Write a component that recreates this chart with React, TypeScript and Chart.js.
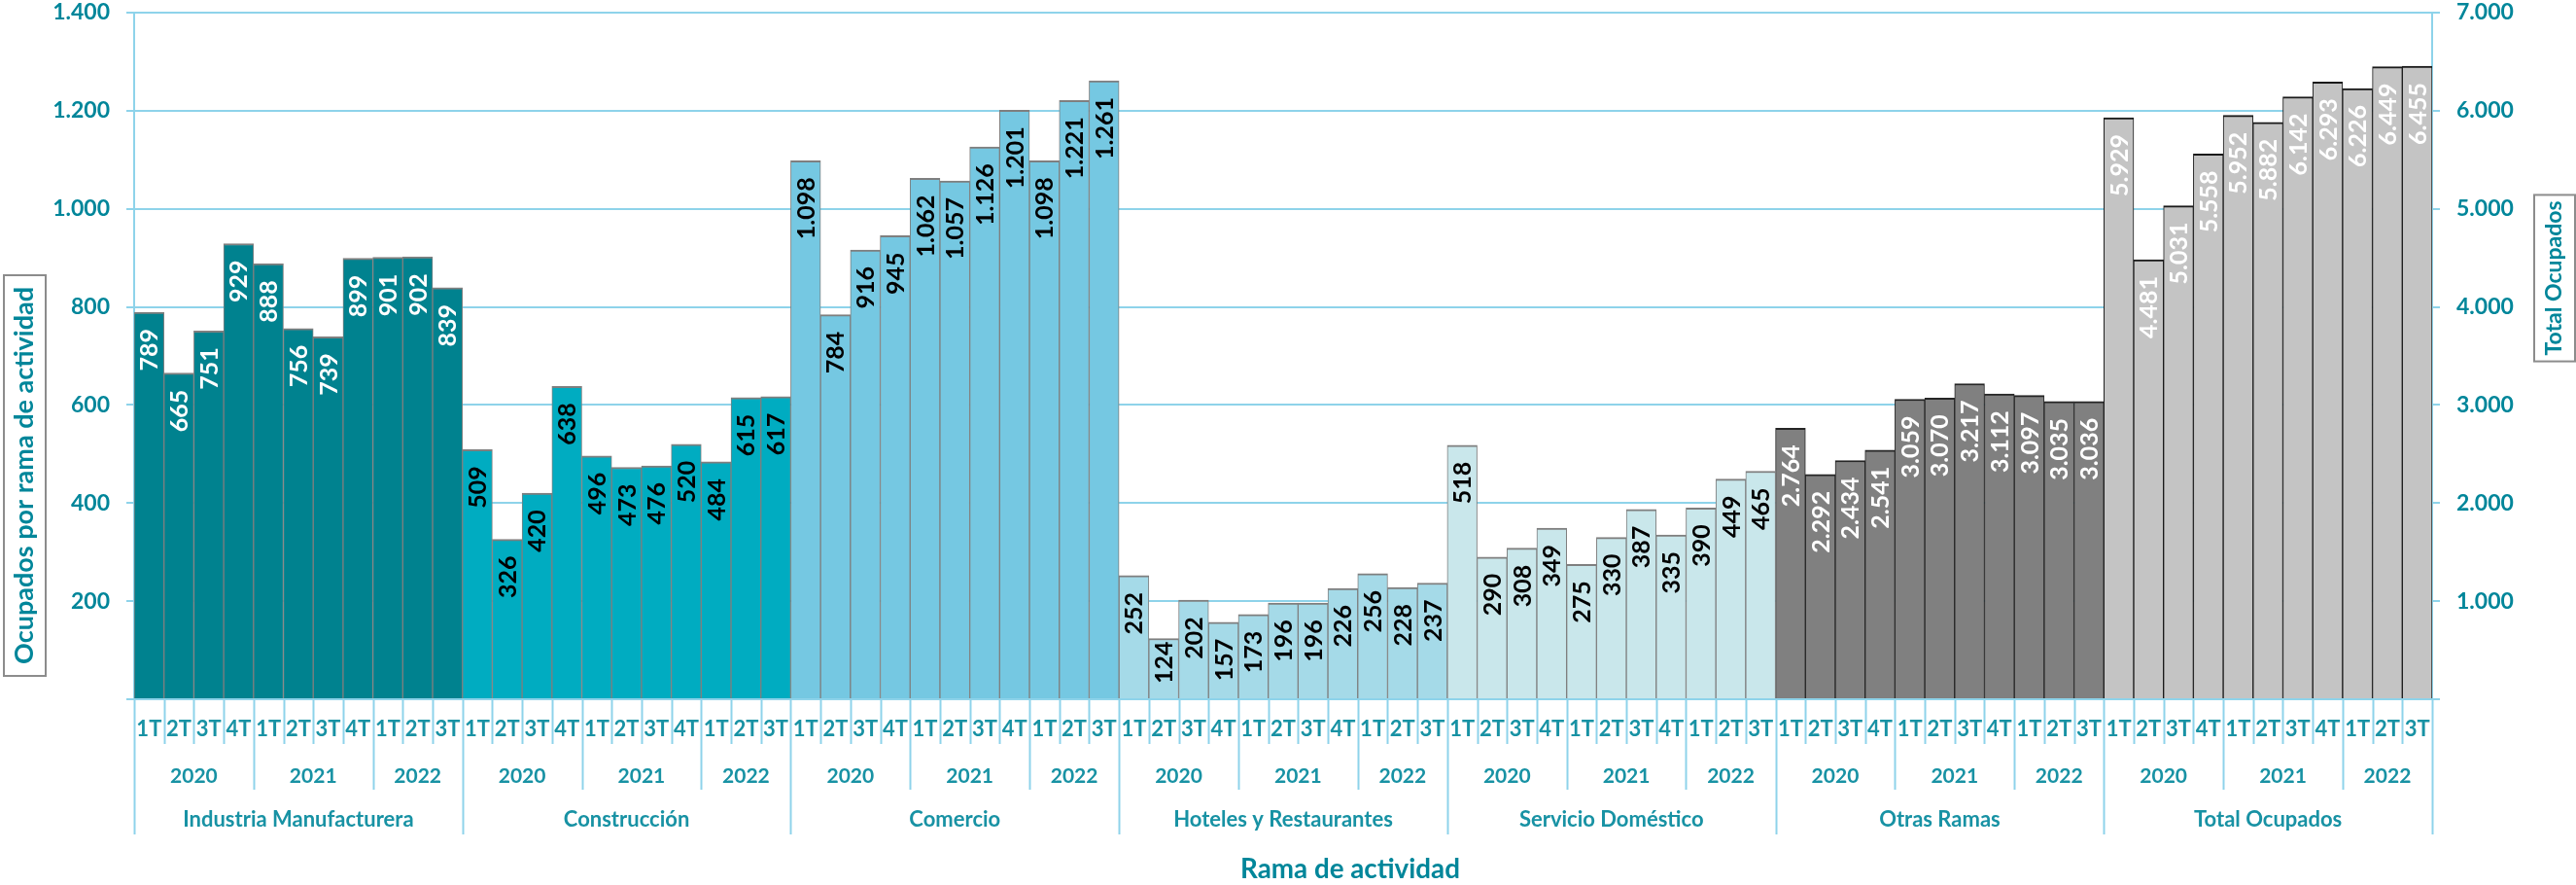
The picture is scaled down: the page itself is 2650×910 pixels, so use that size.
import React, { useEffect, useRef } from "react";
import { Chart, registerables } from "chart.js";

Chart.register(...registerables);

// ---------- data ----------
const quarterLabels = ["1T", "2T", "3T", "4T", "1T", "2T", "3T", "4T", "1T", "2T", "3T"];
const yearLabels = ["2020", "2021", "2022"];
const yearSpans = [4, 4, 3];
const categories = [
  "Industria Manufacturera",
  "Construcción",
  "Comercio",
  "Hoteles y Restaurantes",
  "Servicio Doméstico",
  "Otras Ramas",
  "Total Ocupados",
];
const industria = [789, 665, 751, 929, 888, 756, 739, 899, 901, 902, 839];
const construccion = [509, 326, 420, 638, 496, 473, 476, 520, 484, 615, 617];
const comercio = [1098, 784, 916, 945, 1062, 1057, 1126, 1201, 1098, 1221, 1261];
const hoteles = [252, 124, 202, 157, 173, 196, 196, 226, 256, 228, 237];
const servicio = [518, 290, 308, 349, 275, 330, 387, 335, 390, 449, 465];
const otras = [2764, 2292, 2434, 2541, 3059, 3070, 3217, 3112, 3097, 3035, 3036];
const total = [5929, 4481, 5031, 5558, 5952, 5882, 6142, 6293, 6226, 6449, 6455];
const seriesValues = [industria, construccion, comercio, hoteles, servicio, otras, total];
const seriesAxis = ["y", "y", "y", "y", "y", "y1", "y1"];

const leftAxisTitle = "Ocupados por rama de actividad";
const rightAxisTitle = "Total Ocupados";
const xAxisTitle = "Rama de actividad";

// ---------- styles ----------
const FONT = "Lato, 'Open Sans', sans-serif";
const barColors = ["#00828F", "#00ACC1", "#75C8E2", "#A5DAE8", "#C9E7EB", "#808080", "#C4C4C4"];
const barBorders = ["#7F7F7F", "#7F7F7F", "#7F7F7F", "#7F7F7F", "#7F7F7F", "#262626", "#1A1A1A"];
const labelColors = ["#FFFFFF", "#000000", "#000000", "#000000", "#000000", "#FFFFFF", "#FFFFFF"];
const labelWeights = ["bold", "bold", "bold", "bold", "bold", "bold", "bold"];
const AXIS_TEXT = "#00869A";
const XLABEL_TEXT = "#1892A4";
const GRID = "#8ED3EA";

const fmt = (v: number) => String(v).replace(/\B(?=(\d{3})+(?!\d))/g, ".");

const fitFont = (ctx: any, text: string, weight: string, target: number) => {
  ctx.font = `${weight} 100px ${FONT}`;
  const w = ctx.measureText(text).width;
  const size = (100 * target) / w;
  ctx.font = `${weight} ${size}px ${FONT}`;
  return size;
};

const groupPlugin = {
  id: "groupPlugin",
  afterDatasetsDraw(chart: any) {
    const ctx = chart.ctx;
    ctx.save();
    const fs = 25;
    chart.data.datasets.forEach((ds: any, di: number) => {
      const meta = chart.getDatasetMeta(di);
      ctx.font = `${labelWeights[di]} ${fs}px ${FONT}`;
      ctx.fillStyle = labelColors[di];
      meta.data.forEach((el: any, i: number) => {
        const pt = ds.data[i];
        if (!pt || pt.y == null) return;
        const { x, y, base } = el.getProps(["x", "y", "base"], true);
        const txt = fmt(pt.y);
        const len = ctx.measureText(txt).width;
        let top = y + 17;
        if (top + len > base - 17) top = Math.max(y + 3, base - 17 - len);
        ctx.save();
        ctx.translate(x, top);
        ctx.rotate(-Math.PI / 2);
        ctx.textAlign = "right";
        ctx.textBaseline = "alphabetic";
        ctx.fillText(txt, 0, fs * 0.36);
        ctx.restore();
      });
    });
    ctx.restore();
  },
  afterDraw(chart: any) {
    const ctx = chart.ctx;
    const xs = chart.scales.x;
    const area = chart.chartArea;
    const n = chart.data.labels.length;
    const per = quarterLabels.length;
    const bx = (i: number) => {
      if (i === 0) return area.left;
      if (i === n) return area.right;
      return (xs.getPixelForValue(i - 1) + xs.getPixelForValue(i)) / 2;
    };
    const yearStarts: number[] = [];
    let acc = 0;
    yearSpans.forEach((s) => {
      yearStarts.push(acc);
      acc += s;
    });
    ctx.save();
    ctx.strokeStyle = GRID;
    ctx.lineWidth = 2;
    for (let i = 0; i <= n; i++) {
      const q = i % per;
      let len = 46;
      if (q === 0) len = 139;
      else if (yearStarts.includes(q)) len = 93;
      const x = Math.round(bx(i)) + 0.5;
      ctx.beginPath();
      ctx.moveTo(x, area.bottom);
      ctx.lineTo(x, area.bottom + len);
      ctx.stroke();
    }
    ctx.fillStyle = XLABEL_TEXT;
    ctx.textAlign = "center";
    ctx.textBaseline = "middle";
    categories.forEach((c, ci) => {
      const start = ci * per;
      ctx.font = `bold 21px ${FONT}`;
      yearLabels.forEach((yl, yi) => {
        const a = bx(start + yearStarts[yi]);
        const b = bx(start + yearStarts[yi] + yearSpans[yi]);
        ctx.fillText(yl, (a + b) / 2, area.bottom + 79);
      });
      ctx.font = `bold 22px ${FONT}`;
      ctx.fillText(c, (bx(start) + bx(start + per)) / 2, area.bottom + 124);
    });
    // x title
    fitFont(ctx, xAxisTitle, "bold", 226);
    ctx.fillStyle = AXIS_TEXT;
    ctx.fillText(xAxisTitle, (area.left + area.right) / 2 + 69, area.bottom + 175);

    // y titles with boxes
    const drawBoxTitle = (text: string, cx: number, cy: number, boxW: number, size: number, padLen: number) => {
      ctx.save();
      ctx.font = `bold ${size}px ${FONT}`;
      const len = ctx.measureText(text).width;
      const boxH = len + padLen;
      ctx.strokeStyle = "#8C8C8C";
      ctx.lineWidth = 2;
      ctx.strokeRect(cx - boxW / 2, cy - boxH / 2, boxW, boxH);
      ctx.translate(cx, cy);
      ctx.rotate(-Math.PI / 2);
      ctx.fillStyle = AXIS_TEXT;
      ctx.textAlign = "center";
      ctx.textBaseline = "alphabetic";
      ctx.fillText(text, 0, size * 0.3);
      ctx.restore();
    };
    drawBoxTitle(leftAxisTitle, 25.5, 489, 43, 27, 24);
    drawBoxTitle(rightAxisTitle, 2628, 286, 42, 23, 12);
    ctx.restore();
  },
};

export default function App() {
  const ref = useRef<HTMLCanvasElement>(null);
  useEffect(() => {
    if (!ref.current) return;
    const keys = categories.flatMap((_, ci) => quarterLabels.map((_q, qi) => `${ci}-${qi}`));
    const datasets = seriesValues.map((vals, si) => ({
      label: categories[si],
      data: vals.map((v, qi) => ({ x: `${si}-${qi}`, y: v })),
      yAxisID: seriesAxis[si],
      backgroundColor: barColors[si],
      borderColor: barBorders[si],
      borderWidth: { top: 2, left: 1, right: 1, bottom: 0 },
      borderSkipped: false,
      grouped: false,
      barPercentage: 1,
      categoryPercentage: 1,
    }));
    const chart = new Chart(ref.current, {
      type: "bar",
      data: { labels: keys, datasets: datasets as any },
      plugins: [groupPlugin],
      options: {
        animation: false,
        responsive: false,
        maintainAspectRatio: false,
        devicePixelRatio: 1,
        layout: { padding: { top: 13, left: 0, right: 0, bottom: 0 } },
        plugins: { legend: { display: false }, tooltip: { enabled: false } },
        scales: {
          x: {
            type: "category",
            grid: { display: false, drawTicks: false },
            border: { display: true, color: GRID, width: 2 },
            ticks: {
              autoSkip: false,
              maxRotation: 0,
              minRotation: 0,
              padding: 18,
              color: XLABEL_TEXT,
              font: { family: FONT, size: 22, weight: "bold" },
              callback: (_v: any, i: number) => quarterLabels[i % quarterLabels.length],
            },
            afterFit: (s: any) => {
              s.height = 191;
              s.paddingLeft = 0;
              s.paddingRight = 0;
            },
          },
          y: {
            position: "left",
            min: 0,
            max: 1400,
            grid: { color: GRID, lineWidth: 2, tickLength: 8 },
            border: { display: true, color: GRID, width: 2 },
            ticks: {
              stepSize: 200,
              padding: 17,
              color: AXIS_TEXT,
              font: { family: FONT, size: 23, weight: "bold" },
              callback: (v: any) => (v === 0 ? "" : fmt(v)),
            },
            afterFit: (s: any) => {
              s.width = 138;
              s.paddingTop = 0;
              s.paddingBottom = 0;
            },
          },
          y1: {
            position: "right",
            min: 0,
            max: 7000,
            grid: { drawOnChartArea: false, color: GRID, lineWidth: 2, tickLength: 8 },
            border: { display: true, color: GRID, width: 2 },
            ticks: {
              stepSize: 1000,
              padding: 17,
              color: AXIS_TEXT,
              font: { family: FONT, size: 23, weight: "bold" },
              callback: (v: any) => (v === 0 ? "" : fmt(v)),
            },
            afterFit: (s: any) => {
              s.width = 148;
              s.paddingTop = 0;
              s.paddingBottom = 0;
            },
          },
        },
      } as any,
    });
    return () => chart.destroy();
  }, []);
  return (
    <div style={{ position: "absolute", left: 0, top: 0, width: 2650, height: 910, background: "#fff" }}>
      <canvas ref={ref} width={2650} height={910} style={{ display: "block" }} />
    </div>
  );
}
